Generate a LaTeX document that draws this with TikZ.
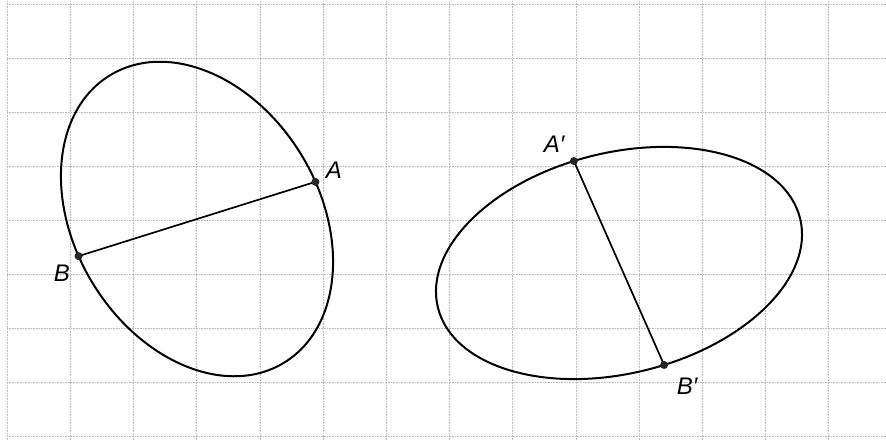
\documentclass[tikz,border=0pt]{standalone}
\usepackage{fontspec}
\setmainfont{Liberation Sans}
\begin{document}
\begin{tikzpicture}[x=1pt,y=1pt,
  gridline/.style={gray!55, densely dotted, line width=0.6pt},
  curve/.style={black, line width=2pt},
  chord/.style={black, line width=1.7pt},
  pt/.style={fill=black!85},
  lbl/.style={font=\fontsize{24}{28}\selectfont\itshape, inner sep=0pt}]
\useasboundingbox[fill=white] (0,0) rectangle (886,440);
% grid
\foreach \k in {0,...,13} {
  \draw[gridline] ({7+63.2*\k},0) -- ({7+63.2*\k},440);
}
\foreach \k in {0,...,8} {
  \draw[gridline] (7,{436-54*\k}) -- (886,{436-54*\k});
}
% left ellipse
\begin{scope}[shift={(197,221)}, rotate=-59]
  \draw[curve] (0,0) ellipse [x radius=168pt, y radius=122.5pt];
  \coordinate (A) at (80:168pt and 122.5pt);
  \coordinate (B) at (260:168pt and 122.5pt);
\end{scope}
% right ellipse
\begin{scope}[shift={(619,177)}, rotate=13.8]
  \draw[curve] (0,0) ellipse [x radius=186.5pt, y radius=110.4pt];
  \coordinate (A2) at (96:186.5pt and 110.4pt);
  \coordinate (B2) at (276:186.5pt and 110.4pt);
\end{scope}
\draw[chord] (A) -- (B);
\draw[chord] (A2) -- (B2);
\foreach \p in {A,B,A2,B2} { \fill[pt] (\p) circle (4pt); }
\node[lbl] (lA) at (334,270) {A};
\node[lbl] (lB) at (62,167) {B};
\node[lbl] (lA2) at (554,296) {A′};
\node[lbl] (lB2) at (687,54) {B′};
\end{tikzpicture}
\end{document}
